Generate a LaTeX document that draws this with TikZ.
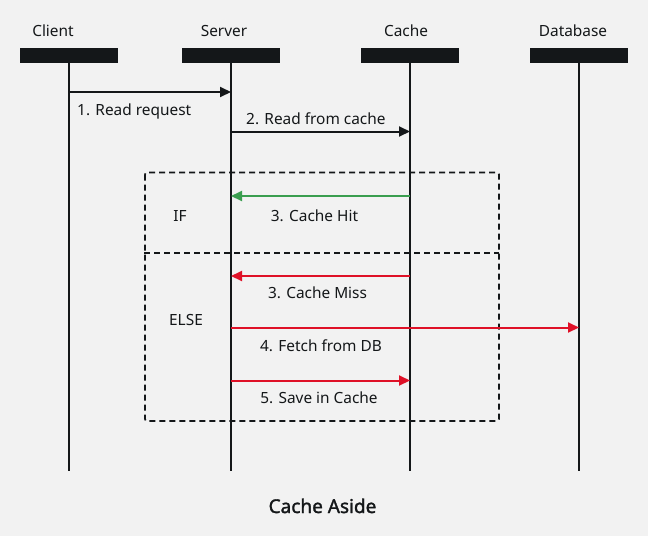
\documentclass[tikz,border=0pt]{standalone}
\usepackage{fontspec}
\setmainfont{Noto Sans}
\newfontfamily\titlefont[FakeBold=1.6]{Noto Sans}
\usepackage{tikz}
\usetikzlibrary{arrows.meta,positioning,calc}
\definecolor{bgcol}{HTML}{F2F2F2}
\definecolor{inkcol}{HTML}{141719}
\definecolor{hitcol}{HTML}{3A9E4F}
\definecolor{misscol}{HTML}{DF1127}

\begin{document}
\begin{tikzpicture}[x=1pt, y=-1pt,
    every node/.style={font=\fontsize{15.4}{18}\selectfont, text=inkcol, inner sep=0pt},
    actor/.style={fill=inkcol, minimum width=98pt, minimum height=15pt},
    life/.style={line width=2pt, draw=inkcol},
    msg/.style={line width=2pt, -{Triangle[length=11pt,width=10pt]}},
    frame/.style={line width=1.7pt, draw=inkcol, dash pattern=on 6pt off 4pt}]
    % background
    \fill[bgcol] (0,0) rectangle (648,536);
    \useasboundingbox (0,0) rectangle (648,536);

    % Actors
    \node[actor] (client) at (69,55.5) {};
    \node[actor] (server) at (231,55.5) {};
    \node[actor] (cache) at (410,55.5) {};
    \node[actor] (db) at (579,55.5) {};
    \node[anchor=base] (clientlbl) at (53,36) {Client};
    \node[anchor=base] (serverlbl) at (224,36) {Server};
    \node[anchor=base] (cachelbl) at (406,36) {Cache};
    \node[anchor=base] (dblbl) at (573,36) {Database};

    % Lifelines
    \coordinate (clientend) at (69,471);
    \coordinate (serverend) at (231,471);
    \coordinate (cacheend) at (410,471);
    \coordinate (dbend) at (579,471);
    \draw[life] (client.south) -- (clientend);
    \draw[life] (server.south) -- (serverend);
    \draw[life] (cache.south) -- (cacheend);
    \draw[life] (db.south) -- (dbend);

    % Read path
    \coordinate (c1) at (69,92);
    \coordinate (s1) at (231,92);
    \coordinate (s2) at (231,131.5);
    \coordinate (k2) at (410,131.5);
    \draw[msg, inkcol] (c1) -- (s1);
    \node[anchor=base west] (m1) at (77,115) {1. Read request};
    \draw[msg, inkcol] (s2) -- (k2);
    \node[anchor=base west] (m2) at (246,124) {2. Read from cache};

    % Alternative frame
    \draw[frame, rounded corners=2pt] (145,172.5) rectangle (499,421);
    \draw[frame] (144,253) -- (499,253);
    \node[anchor=base] (iflbl) at (180,221) {IF};
    \node[anchor=base] (elselbl) at (186,325) {ELSE};

    % Cache hit
    \coordinate (k3) at (410,196);
    \coordinate (s3) at (231,196);
    \draw[msg, hitcol] (k3) -- (s3);
    \node[anchor=base] (m3) at (314.5,221) {3. Cache Hit};

    % Cache miss
    \coordinate (k4) at (410,276);
    \coordinate (s4) at (231,276);
    \draw[msg, misscol] (k4) -- (s4);
    \node[anchor=base] (m4) at (317.5,298) {3. Cache Miss};
    \coordinate (s5) at (231,327.5);
    \coordinate (d5) at (579,327.5);
    \draw[msg, misscol] (s5) -- (d5);
    \node[anchor=base] (m5) at (321,351) {4. Fetch from DB};
    \coordinate (s6) at (231,380.5);
    \coordinate (k6) at (410,380.5);
    \draw[msg, misscol] (s6) -- (k6);
    \node[anchor=base] (m6) at (319,403) {5. Save in Cache};

    % Title
    \node[anchor=base, font=\fontsize{19}{22}\titlefont] (title) at (322.5,513) {Cache Aside};
\end{tikzpicture}
\end{document}
